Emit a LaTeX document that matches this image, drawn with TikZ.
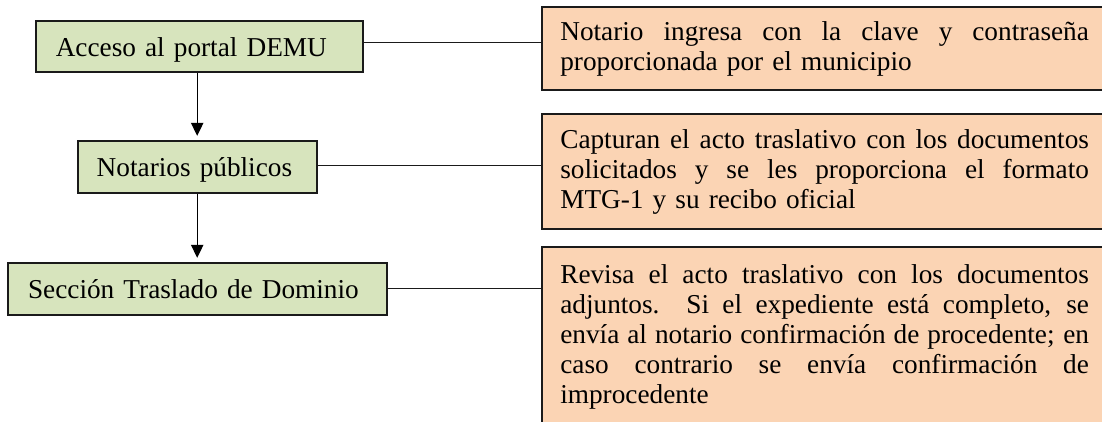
\documentclass[tikz,border=0pt]{standalone}
\usepackage{fontspec}
\setmainfont{Liberation Serif}
\usetikzlibrary{arrows.meta}
\definecolor{greenfill}{HTML}{D7E4BD}
\definecolor{orangefill}{HTML}{FBD4B4}
\definecolor{edge}{HTML}{1A1A1A}
\newcommand{\jline}[1]{\leavevmode{\spaceskip=0.25em plus 1fil minus 0.05em\relax\hbox to 232.6pt{#1}}}
\tikzset{
  txt/.style={font=\fontsize{12}{13.2}\selectfont},
  greenbox/.style={txt, draw=edge, line width=0.85pt, fill=greenfill, align=left,
    inner ysep=0pt, text height=11pt, text depth=2.6pt, minimum height=22.9pt},
  orangebox/.style={txt, draw=edge, line width=0.85pt, fill=orangefill, align=left,
    anchor=north west, inner ysep=0pt, inner xsep=8.2pt, text width=232.6pt},
  link/.style={draw=edge, line width=0.5pt},
  arr/.style={draw=black, line width=0.6pt, -{Triangle[length=5.7pt, width=5.4pt]}, shorten >=1.7pt}
}
\begin{document}
\begin{tikzpicture}[x=0.44pt, y=-0.44pt]
\useasboundingbox (0,0) rectangle (1102,421);
\clip (0,0) rectangle (1102,421);
% green process boxes
\node[greenbox, text width=126.5pt, inner xsep=8.8pt, minimum height=22.7pt] (A) at (199.5,46.5) {Acceso al portal DEMU};
\node[greenbox, text width=88.4pt, inner xsep=8.4pt] (B) at (197.2,166.7) {Notarios públicos};
\node[greenbox, text width=149.4pt, inner xsep=8.7pt, minimum height=23pt] (C) at (197.8,288.8) {Sección Traslado de Dominio};
% orange description boxes
\node[orangebox, minimum height=36.7pt] (O1) at (540.7,6) {%
\jline{Notario ingresa con la clave y contraseña}\\
proporcionada por el municipio};
\node[orangebox, minimum height=50.6pt] (O2) at (540.7,113.3) {%
\jline{Capturan el acto traslativo con los documentos}\\
\jline{solicitados y se les proporciona el formato}\\
MTG-1 y su recibo oficial};
\node[orangebox, minimum height=79.2pt] (O3) at (540.7,246) {%
\jline{Revisa el acto traslativo con los documentos}\\
\jline{adjuntos.\ \ Si el expediente está completo, se}\\
\jline{envía al notario confirmación de procedente; en}\\
\jline{caso contrario se envía confirmación de}\\
improcedente};
% horizontal links
\draw[link] ([yshift=1.7pt]A.east) -- ([yshift=1.7pt]A.east -| O1.west);
\draw[link] ([yshift=0.7pt]B.east) -- ([yshift=0.7pt]B.east -| O2.west);
\draw[link] (C.east) -- (C.east -| O3.west);
% vertical arrows
\draw[arr] (A.south -| B.north) -- (B.north);
\draw[arr] (B.south) -- (C.north -| B.south);
\end{tikzpicture}
\end{document}
